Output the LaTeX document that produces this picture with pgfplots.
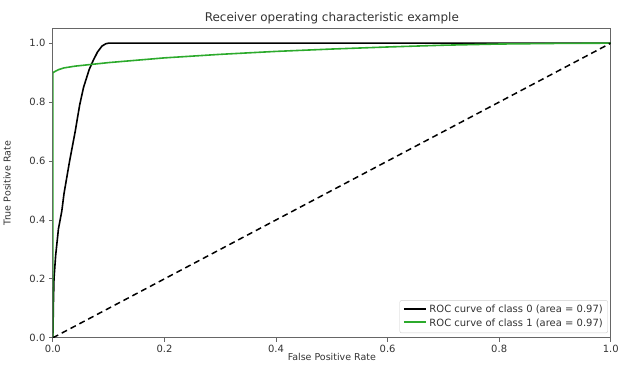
\documentclass[border={0pt 0pt 0pt 9pt}]{standalone}
\usepackage{fontspec}
\setmainfont{DejaVu Sans}
\usepackage{pgfplots}
\pgfplotsset{compat=1.18}
\definecolor{rocgreen}{RGB}{44,170,44}
\begin{document}
\begin{tikzpicture}
\begin{axis}[
  scale only axis,
  width=559pt, height=310pt,
  xmin=0, xmax=1, ymin=0, ymax=1.05,
  xtick={0,0.2,0.4,0.6,0.8,1.0},
  ytick={0,0.2,0.4,0.6,0.8,1.0},
  /pgf/number format/assume math mode=true,
  /pgf/number format/fixed, /pgf/number format/fixed zerofill, /pgf/number format/precision=1,
  tick label style={font=\fontsize{10}{12}\selectfont, text=black!80},
  tick align=outside, major tick length=4pt,
  xtick pos=bottom, ytick pos=left,
  axis line style={black!60, line width=0.8pt},
  tick style={black!60, line width=0.8pt},
  title={Receiver operating characteristic example},
  title style={font=\fontsize{12}{14}\selectfont, text=black!80, yshift=-5pt},
  xlabel={False Positive Rate},
  ylabel={True Positive Rate},
  label style={font=\fontsize{9.5}{11}\selectfont, text=black!80},
  xlabel style={yshift=6pt},
  ylabel style={yshift=12pt},
  legend style={at={(0.995,0.015)}, anchor=south east, font=\fontsize{10}{12}\selectfont,
    draw=black!20, rounded corners=2pt, text=black!80, row sep=0.4pt, inner sep=3pt},
  legend cell align=left,
  legend image code/.code={\draw[#1, line width=2pt] (0cm,0.05cm) -- (0.8cm,0.05cm);},
]
\addplot[black, line width=1.6pt] coordinates {
 (0,0) (0.001,0.12) (0.002,0.2) (0.005,0.28) (0.01,0.37) (0.016,0.43) (0.02,0.49)
 (0.03,0.6) (0.04,0.7) (0.048,0.79) (0.055,0.85) (0.065,0.91) (0.072,0.94)
 (0.08,0.97) (0.088,0.99) (0.095,0.998) (0.1,1.0) (1,1.0)};
\addlegendentry{ROC curve of class 0 (area = 0.97)}
\addplot[rocgreen, line width=1.6pt] coordinates {
 (0,0) (0,0.90) (0.005,0.905) (0.01,0.91) (0.02,0.916) (0.04,0.922) (0.07,0.928)
 (0.1,0.934) (0.15,0.942) (0.2,0.95) (0.3,0.962) (0.4,0.972) (0.5,0.98)
 (0.6,0.987) (0.7,0.993) (0.8,0.997) (0.9,0.999) (1,1.0)};
\addlegendentry{ROC curve of class 1 (area = 0.97)}
\addplot[black, line width=1.5pt, dash pattern=on 6pt off 4pt, forget plot] coordinates {(0,0) (1,1)};
\end{axis}
\end{tikzpicture}
\end{document}
